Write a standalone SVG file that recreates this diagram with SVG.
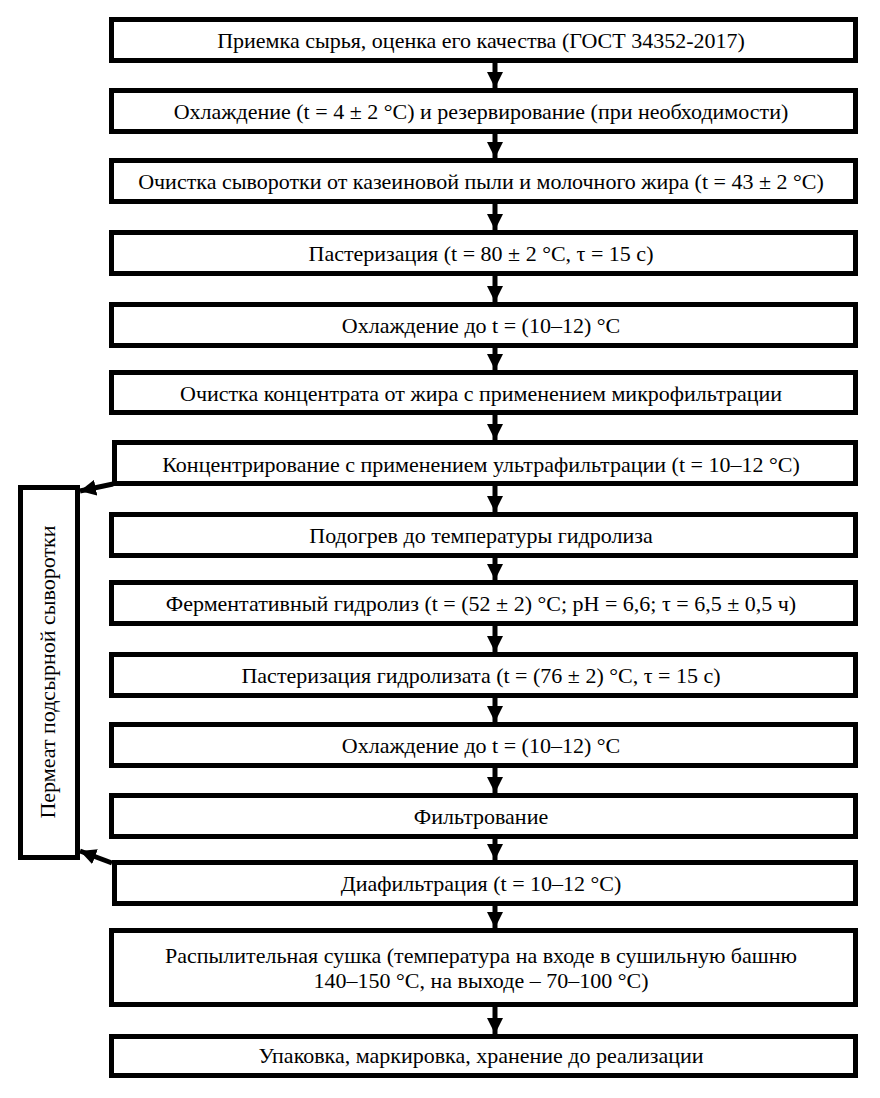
<svg xmlns="http://www.w3.org/2000/svg" width="880" height="1098" viewBox="0 0 880 1098">
<style>
.box{fill:#fff;stroke:#000;stroke-width:5}
.t{font-family:"Liberation Serif","Times New Roman",serif;font-size:22px;fill:#000;text-anchor:middle}
.c{stroke:#000;stroke-width:5;fill:none;marker-end:url(#ah)}
</style>
<defs>
<marker id="ah" markerUnits="userSpaceOnUse" markerWidth="18" markerHeight="16" viewBox="0 0 18 16" refX="16" refY="8" orient="auto">
<path d="M0,0 L16,8 L0,16 Z" fill="#000"/>
</marker>
</defs>
<rect width="880" height="1098" fill="#fff"/>
<g id="connectors">
<line class="c" x1="495" y1="62" x2="495" y2="88"/>
<line class="c" x1="495" y1="133" x2="495" y2="158"/>
<line class="c" x1="495" y1="203" x2="495" y2="230"/>
<line class="c" x1="495" y1="275" x2="495" y2="302"/>
<line class="c" x1="495" y1="347" x2="495" y2="370"/>
<line class="c" x1="495" y1="415" x2="495" y2="440"/>
<line class="c" x1="495" y1="485" x2="495" y2="512"/>
<line class="c" x1="495" y1="557" x2="495" y2="580"/>
<line class="c" x1="495" y1="625" x2="495" y2="652"/>
<line class="c" x1="495" y1="697" x2="495" y2="722"/>
<line class="c" x1="495" y1="767" x2="495" y2="793"/>
<line class="c" x1="495" y1="838" x2="495" y2="860"/>
<line class="c" x1="495" y1="905" x2="495" y2="928"/>
<line class="c" x1="495" y1="1006" x2="495" y2="1034"/>
<line class="c" x1="113" y1="484" x2="80" y2="491"/>
<line class="c" x1="112" y1="863" x2="80" y2="851"/>
</g>
<g id="n1"><rect class="box" x="111.5" y="19.5" width="744" height="41"/><text class="t" x="481" y="48">Приемка сырья, оценка его качества (ГОСТ 34352-2017)</text></g>
<g id="n2"><rect class="box" x="111.5" y="90.5" width="744" height="41"/><text class="t" x="481" y="119">Охлаждение (t = 4 ± 2 °C) и резервирование (при необходимости)</text></g>
<g id="n3"><rect class="box" x="111.5" y="160.5" width="744" height="41"/><text class="t" x="481" y="189">Очистка сыворотки от казеиновой пыли и молочного жира (t = 43 ± 2 °C)</text></g>
<g id="n4"><rect class="box" x="111.5" y="232.5" width="744" height="41"/><text class="t" x="481" y="261">Пастеризация (t = 80 ± 2 °C, τ = 15 с)</text></g>
<g id="n5"><rect class="box" x="111.5" y="304.5" width="744" height="41"/><text class="t" x="481" y="333">Охлаждение до t = (10–12) °C</text></g>
<g id="n6"><rect class="box" x="111.5" y="372.5" width="744" height="40"/><text class="t" x="481" y="401">Очистка концентрата от жира с применением микрофильтрации</text></g>
<g id="n7"><rect class="box" x="114.5" y="442.5" width="741" height="41"/><text class="t" x="481" y="472">Концентрирование с применением ультрафильтрации (t = 10–12 °C)</text></g>
<g id="n8"><rect class="box" x="111.5" y="514.5" width="744" height="41"/><text class="t" x="481" y="543">Подогрев до температуры гидролиза</text></g>
<g id="n9"><rect class="box" x="111.5" y="582.5" width="744" height="41"/><text class="t" x="481" y="611">Ферментативный гидролиз (t = (52 ± 2) °C; pH = 6,6; τ = 6,5 ± 0,5 ч)</text></g>
<g id="n10"><rect class="box" x="111.5" y="654.5" width="744" height="41"/><text class="t" x="481" y="683">Пастеризация гидролизата (t = (76 ± 2) °C, τ = 15 с)</text></g>
<g id="n11"><rect class="box" x="111.5" y="724.5" width="744" height="41"/><text class="t" x="481" y="753">Охлаждение до t = (10–12) °C</text></g>
<g id="n12"><rect class="box" x="111.5" y="795.5" width="744" height="41"/><text class="t" x="481" y="824">Фильтрование</text></g>
<g id="n13"><rect class="box" x="114.5" y="862.5" width="741" height="41"/><text class="t" x="481" y="891">Диафильтрация (t = 10–12 °C)</text></g>
<g id="n14"><rect class="box" x="111.5" y="930.5" width="744" height="74"/><text class="t" x="481" y="963">Распылительная сушка (температура на входе в сушильную башню</text><text class="t" x="481" y="988">140–150 °C, на выходе – 70–100 °C)</text></g>
<g id="n15"><rect class="box" x="111.5" y="1036.5" width="744" height="39"/><text class="t" x="481" y="1063">Упаковка, маркировка, хранение до реализации</text></g>
<g id="side"><rect class="box" x="20.5" y="487.5" width="57" height="370"/><text class="t" transform="translate(55,672) rotate(-90)">Пермеат подсырной сыворотки</text></g>
</svg>
